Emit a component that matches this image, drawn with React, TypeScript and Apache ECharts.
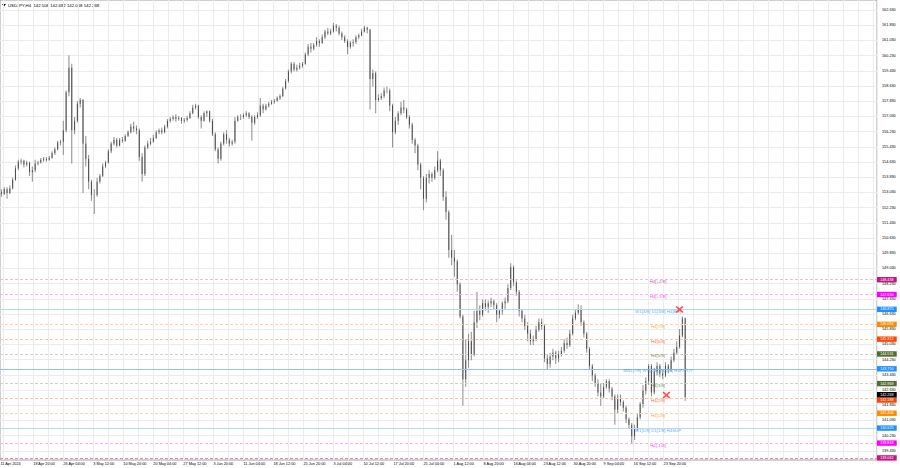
import React, { useEffect, useRef } from "react";
import * as echarts from "echarts";

// ---------- DATA ----------
const symbolName = "USDJPY,H4";
const lastBar = [142.508, 142.682, 142.068, 142.268]; // O H L C of the last H4 bar
const firstTradingDay = [2024, 3, 11]; // 11 Apr 2024

// 12-hour candles [open, close, low, high], two per trading day
const aprBars = [
  [153.05, 152.95, 152.8, 153.2], [152.95, 153.2, 152.9, 153.3], // 11 Apr
  [153.2, 153.0, 152.7, 153.3], [153.0, 153.25, 152.95, 153.4], // 12 Apr
  [153.25, 153.7, 153.2, 153.8], [153.7, 154.3, 153.65, 154.45], // 15 Apr
  [154.3, 154.65, 154.2, 154.75], [154.65, 154.7, 154.5, 154.8], // 16 Apr
  [154.7, 154.5, 154.35, 154.75], [154.5, 154.6, 154.4, 154.7], // 17 Apr
  [154.6, 154.1, 153.9, 154.65], [154.1, 154.2, 153.6, 154.4], // 18 Apr
  [154.2, 154.55, 154.1, 154.75], [154.55, 154.6, 154.45, 154.7], // 19 Apr
  [154.6, 154.75, 154.55, 154.85], [154.75, 154.8, 154.65, 154.9], // 22 Apr
  [154.8, 154.75, 154.65, 154.9], [154.75, 154.85, 154.7, 154.95], // 23 Apr
  [154.85, 155.1, 154.8, 155.2], [155.1, 155.3, 155.0, 155.4], // 24 Apr
  [155.3, 155.65, 155.25, 155.75], [155.65, 155.7, 155.5, 155.8], // 25 Apr
  [155.7, 156.3, 155.0, 156.8], [156.3, 158.3, 156.2, 158.4], // 26 Apr
  [158.3, 159.6, 158.1, 160.25], [159.6, 156.3, 154.55, 159.8], // 29 Apr
  [156.3, 156.8, 156.1, 157.0], [156.8, 157.7, 156.7, 157.85], // 30 Apr
];
const mayBars = [
  [157.7, 157.9, 157.5, 158.0], [157.9, 155.6, 153.0, 157.95], // 1 May
  [155.6, 154.8, 154.4, 156.0], [154.8, 153.6, 153.2, 155.0], // 2 May
  [153.6, 152.9, 152.6, 153.7], [152.9, 152.9, 151.9, 153.2], // 3 May
  [152.9, 153.6, 152.8, 153.8], [153.6, 153.9, 153.5, 154.0], // 6 May
  [153.9, 154.4, 153.85, 154.55], [154.4, 154.6, 154.3, 154.7], // 7 May
  [154.6, 155.2, 154.55, 155.3], [155.2, 155.6, 155.1, 155.7], // 8 May
  [155.6, 155.8, 155.5, 155.95], [155.8, 155.5, 155.4, 155.9], // 9 May
  [155.5, 155.8, 155.45, 155.9], [155.8, 155.75, 155.65, 155.95], // 10 May
  [155.75, 156.0, 155.7, 156.1], [156.0, 156.2, 155.95, 156.3], // 13 May
  [156.2, 156.5, 156.15, 156.65], [156.5, 156.4, 156.2, 156.75], // 14 May
  [156.4, 156.3, 156.1, 156.55], [156.3, 154.9, 154.7, 156.4], // 15 May
  [154.9, 154.0, 153.6, 155.1], [154.0, 155.4, 153.9, 155.5], // 16 May
  [155.4, 155.6, 155.3, 155.75], [155.6, 155.7, 155.5, 155.9], // 17 May
  [155.7, 155.9, 155.65, 156.05], [155.9, 156.2, 155.85, 156.3], // 20 May
  [156.2, 156.3, 156.1, 156.4], [156.3, 156.2, 156.1, 156.45], // 21 May
  [156.2, 156.5, 156.15, 156.6], [156.5, 156.8, 156.4, 156.9], // 22 May
  [156.8, 156.9, 156.7, 157.0], [156.9, 157.0, 156.8, 157.1], // 23 May
  [157.0, 156.9, 156.75, 157.15], [156.9, 156.95, 156.8, 157.05], // 24 May
  [156.95, 156.8, 156.65, 157.0], [156.8, 156.85, 156.7, 156.95], // 27 May
  [156.85, 156.95, 156.75, 157.05], [156.95, 157.2, 156.9, 157.3], // 28 May
  [157.2, 157.5, 157.15, 157.65], [157.5, 157.6, 157.4, 157.7], // 29 May
  [157.6, 157.0, 156.9, 157.65], [157.0, 156.8, 156.4, 157.1], // 30 May
  [156.8, 157.2, 156.75, 157.3], [157.2, 157.3, 157.0, 157.35], // 31 May
];
const junBars = [
  [157.3, 156.8, 156.7, 157.35], [156.8, 156.1, 156.0, 156.9], // 3 Jun
  [156.1, 155.3, 155.2, 156.2], [155.3, 154.8, 154.55, 155.4], // 4 Jun
  [154.8, 155.6, 154.7, 155.7], [155.6, 156.1, 155.5, 156.2], // 5 Jun
  [156.1, 155.8, 155.6, 156.3], [155.8, 155.6, 155.45, 155.9], // 6 Jun
  [155.6, 155.7, 155.5, 155.8], [155.7, 156.8, 155.6, 157.0], // 7 Jun
  [156.8, 157.0, 156.75, 157.1], [157.0, 157.0, 156.85, 157.15], // 10 Jun
  [157.0, 157.1, 156.9, 157.2], [157.1, 157.2, 157.0, 157.3], // 11 Jun
  [157.2, 157.0, 156.9, 157.25], [157.0, 156.7, 155.75, 157.1], // 12 Jun
  [156.7, 157.0, 156.6, 157.1], [157.0, 157.1, 156.9, 157.25], // 13 Jun
  [157.1, 157.6, 157.0, 158.0], [157.6, 157.4, 157.2, 157.7], // 14 Jun
  [157.4, 157.6, 157.35, 157.7], [157.6, 157.7, 157.5, 157.8], // 17 Jun
  [157.7, 157.8, 157.65, 157.9], [157.8, 157.85, 157.7, 157.95], // 18 Jun
  [157.85, 158.0, 157.8, 158.1], [158.0, 158.1, 157.9, 158.2], // 19 Jun
  [158.1, 158.5, 158.05, 158.6], [158.5, 158.9, 158.45, 159.0], // 20 Jun
  [158.9, 159.4, 158.8, 159.5], [159.4, 159.8, 159.3, 159.9], // 21 Jun
  [159.8, 159.5, 159.4, 159.9], [159.5, 159.6, 159.4, 159.75], // 24 Jun
  [159.6, 159.7, 159.5, 159.85], [159.7, 159.8, 159.6, 159.9], // 25 Jun
  [159.8, 160.3, 159.75, 160.4], [160.3, 160.7, 160.2, 160.85], // 26 Jun
  [160.7, 160.6, 160.4, 160.9], [160.6, 160.8, 160.5, 160.9], // 27 Jun
  [160.8, 161.0, 160.7, 161.2], [161.0, 160.9, 160.7, 161.1], // 28 Jun
];
const julBars = [
  [160.9, 161.2, 160.85, 161.35], [161.2, 161.5, 161.1, 161.6], // 1 Jul
  [161.5, 161.4, 161.3, 161.7], [161.4, 161.5, 161.3, 161.65], // 2 Jul
  [161.5, 161.8, 161.45, 161.95], [161.8, 161.7, 161.5, 161.9], // 3 Jul
  [161.7, 161.4, 161.3, 161.8], [161.4, 161.2, 161.05, 161.5], // 4 Jul
  [161.2, 161.0, 160.9, 161.3], [161.0, 160.7, 160.3, 161.1], // 5 Jul
  [160.7, 160.9, 160.6, 161.0], [160.9, 160.95, 160.7, 161.1], // 8 Jul
  [160.95, 161.2, 160.85, 161.3], [161.2, 161.3, 161.1, 161.4], // 9 Jul
  [161.3, 161.5, 161.25, 161.65], [161.5, 161.7, 161.45, 161.8], // 10 Jul
  [161.7, 161.6, 161.4, 161.75], [161.6, 159.0, 157.4, 161.65], // 11 Jul
  [159.0, 159.3, 158.6, 159.5], [159.3, 157.9, 157.2, 159.4], // 12 Jul
  [157.9, 158.0, 157.8, 158.2], [158.0, 158.1, 157.9, 158.25], // 15 Jul
  [158.1, 158.4, 158.0, 158.55], [158.4, 158.4, 158.25, 158.6], // 16 Jul
  [158.4, 157.6, 157.3, 158.5], [157.6, 156.2, 155.4, 157.7], // 17 Jul
  [156.2, 156.8, 156.1, 157.0], [156.8, 157.2, 156.6, 157.3], // 18 Jul
  [157.2, 157.5, 157.1, 157.8], [157.5, 157.4, 157.2, 157.9], // 19 Jul
  [157.4, 157.0, 156.9, 157.5], [157.0, 156.6, 156.4, 157.1], // 22 Jul
  [156.6, 155.8, 155.6, 156.7], [155.8, 155.5, 155.1, 155.9], // 23 Jul
  [155.5, 154.5, 154.2, 155.6], [154.5, 153.8, 153.2, 154.6], // 24 Jul
  [153.8, 152.7, 152.1, 153.9], [152.7, 153.8, 152.5, 154.0], // 25 Jul
  [153.8, 154.0, 153.5, 154.2], [154.0, 153.8, 153.6, 154.1], // 26 Jul
  [153.8, 154.2, 153.7, 154.4], [154.2, 154.7, 154.1, 155.2], // 29 Jul
  [154.7, 154.2, 153.9, 154.8], [154.2, 152.8, 152.6, 154.3], // 30 Jul
  [152.8, 152.0, 151.6, 153.1], [152.0, 150.0, 149.6, 152.1], // 31 Jul
];
const augBars = [
  [150.0, 149.6, 149.2, 150.8], [149.6, 149.4, 148.6, 150.0], // 1 Aug
  [149.4, 148.2, 147.8, 149.5], [148.2, 146.5, 146.4, 148.3], // 2 Aug
  [146.5, 143.2, 141.8, 146.6], [143.2, 144.2, 142.8, 145.3], // 5 Aug
  [144.2, 145.2, 143.8, 145.6], [145.2, 144.5, 144.2, 145.7], // 6 Aug
  [144.5, 146.2, 144.4, 146.8], [146.2, 146.8, 145.9, 147.8], // 7 Aug
  [146.8, 146.6, 146.3, 147.1], [146.6, 147.2, 146.5, 147.4], // 8 Aug
  [147.2, 147.0, 146.8, 147.4], [147.0, 147.2, 146.7, 147.35], // 9 Aug
  [147.2, 147.3, 147.0, 147.5], [147.3, 147.1, 146.9, 147.4], // 12 Aug
  [147.1, 146.6, 146.2, 147.2], [146.6, 146.8, 146.4, 146.9], // 13 Aug
  [146.8, 147.2, 146.6, 147.3], [147.2, 147.3, 146.9, 147.5], // 14 Aug
  [147.3, 148.0, 147.2, 148.2], [148.0, 149.1, 147.9, 149.3], // 15 Aug
  [149.1, 148.3, 148.1, 149.2], [148.3, 147.8, 147.6, 148.4], // 16 Aug
  [147.8, 146.8, 146.5, 147.9], [146.8, 146.4, 146.2, 146.9], // 19 Aug
  [146.4, 146.0, 145.8, 146.6], [146.0, 145.6, 145.2, 146.2], // 20 Aug
  [145.6, 145.2, 145.0, 145.8], [145.2, 145.3, 145.0, 145.5], // 21 Aug
  [145.3, 145.8, 145.2, 146.0], [145.8, 146.2, 145.7, 146.4], // 22 Aug
  [146.2, 146.0, 145.8, 146.4], [146.0, 144.3, 144.1, 146.1], // 23 Aug
  [144.3, 144.0, 143.7, 144.5], [144.0, 144.4, 143.8, 144.6], // 26 Aug
  [144.4, 144.6, 144.2, 144.8], [144.6, 144.3, 144.0, 144.7], // 27 Aug
  [144.3, 144.5, 144.1, 144.7], [144.5, 144.7, 144.4, 144.9], // 28 Aug
  [144.7, 145.1, 144.6, 145.3], [145.1, 145.0, 144.8, 145.4], // 29 Aug
  [145.0, 145.6, 144.9, 145.8], [145.6, 146.4, 145.5, 146.6], // 30 Aug
];
const sepBars = [
  [146.4, 146.7, 146.3, 146.9], [146.7, 146.9, 146.6, 147.15], // 2 Sep
  [146.9, 146.2, 146.0, 147.1], [146.2, 145.6, 145.4, 146.3], // 3 Sep
  [145.6, 144.8, 144.6, 145.7], [144.8, 143.9, 143.7, 144.9], // 4 Sep
  [143.9, 143.4, 143.1, 144.0], [143.4, 143.0, 142.8, 143.5], // 5 Sep
  [143.0, 142.5, 142.3, 143.2], [142.5, 142.3, 141.8, 143.0], // 6 Sep
  [142.3, 142.8, 142.2, 143.0], [142.8, 143.1, 142.7, 143.2], // 9 Sep
  [143.1, 142.7, 142.5, 143.2], [142.7, 142.3, 142.1, 142.8], // 10 Sep
  [142.3, 141.6, 140.8, 142.4], [141.6, 142.2, 141.4, 142.4], // 11 Sep
  [142.2, 142.0, 141.8, 142.4], [142.0, 141.7, 141.5, 142.1], // 12 Sep
  [141.7, 141.1, 140.9, 141.8], [141.1, 140.8, 140.6, 141.2], // 13 Sep
  [140.8, 140.2, 139.8, 140.9], [140.2, 140.6, 140.0, 140.8], // 16 Sep
  [140.6, 141.2, 140.5, 141.4], [141.2, 141.9, 141.1, 142.0], // 17 Sep
  [141.9, 142.6, 141.7, 142.9], [142.6, 143.1, 142.4, 143.3], // 18 Sep
  [143.1, 143.9, 142.9, 144.0], [143.9, 142.5, 142.3, 144.0], // 19 Sep
  [142.5, 143.6, 142.4, 143.8], [143.6, 143.9, 143.4, 144.1], // 20 Sep
  [143.9, 143.5, 143.3, 144.0], [143.5, 143.4, 143.2, 143.7], // 23 Sep
  [143.4, 143.9, 143.3, 144.1], [143.9, 143.7, 143.5, 144.0], // 24 Sep
  [143.7, 144.2, 143.6, 144.4], [144.2, 144.6, 144.1, 144.8], // 25 Sep
  [144.6, 144.9, 144.5, 145.2], [144.9, 145.5, 144.8, 145.85], // 26 Sep
  [145.5, 146.4, 145.4, 146.5], [146.4, 142.268, 142.068, 146.45], // 27 Sep
];

// Murrey math levels (right side)
const levelValues = [148.438, 147.656, 146.875, 146.094, 145.312, 144.531, 143.75, 142.969, 142.188, 141.406, 140.625, 139.844, 139.062];
const levelNames = [
  "H4[+2/8]", "H4[+1/8]", "W1[3/8] D1[3/8] H4[8/8]", "H4[7/8]", "H4[6/8]", "H4[5/8]",
  "MN1[7/8] W1[2/8] D1[2/8] H4PIVOT", "H4[3/8]", "H4[2/8]", "H4[1/8]", "W1[1/8] D1[1/8] H4SUP", "H4[-1/8]", "",
];
// signal crosses: [H4 bar index, price]
const signalBars = [724, 710];
const signalPrices = [146.875, 142.37];

const yTicks = [
  139.43, 140.23, 141.03, 141.83, 142.63, 143.43, 144.23, 145.03, 145.83, 146.63,
  147.43, 148.23, 149.03, 149.83, 150.63, 151.43, 152.23, 153.03, 153.83, 154.63,
  155.43, 156.23, 157.03, 157.83, 158.63, 159.43, 160.23, 161.03, 161.83, 162.63,
];
const xTickLabels = [
  "11 Apr 2024", "18 Apr 20:00", "26 Apr 04:00", "3 May 12:00", "10 May 20:00", "20 May 04:00",
  "27 May 12:00", "3 Jun 20:00", "11 Jun 04:00", "18 Jun 12:00", "25 Jun 20:00", "3 Jul 04:00",
  "10 Jul 12:00", "17 Jul 20:00", "25 Jul 04:00", "1 Aug 12:00", "8 Aug 20:00", "16 Aug 04:00",
  "23 Aug 12:00", "30 Aug 20:00", "9 Sep 04:00", "16 Sep 12:00", "23 Sep 20:00",
];

// ---------- STYLES ----------
const boxColors = ["#c71585", "#ff00ff", "#1e90ff", "#ff8c00", "#ff4500", "#556b2f", "#1e90ff", "#556b2f", "#ff4500", "#ff8c00", "#1e90ff", "#ff00ff", "#c71585"];
const lineColors = [
  "#f2b8dc", "#f7b0f7", "#b4d7fb", "#fcd6a8", "#fcc2ad", "#cfd3c3", "#8ec2f6", "#cfd3c3",
  "#fcc2ad", "#fcd6a8", "#b4d7fb", "#f7b0f7", "#de8cbd",
];
const solidLevels = [false, false, true, false, false, false, true, false, false, false, true, false, false];
const FONT = "'Liberation Sans', Arial, sans-serif";
const TOTAL_CATS = 935;
const LABEL_BAR = 701;

const MONTHS = ["Jan", "Feb", "Mar", "Apr", "May", "Jun", "Jul", "Aug", "Sep", "Oct", "Nov", "Dec"];

function buildCategories(): string[] {
  const days: Date[] = [];
  let t = Date.UTC(firstTradingDay[0], firstTradingDay[1], firstTradingDay[2]);
  while (days.length * 6 < TOTAL_CATS) {
    const d = new Date(t);
    const wd = d.getUTCDay();
    if (wd !== 0 && wd !== 6) days.push(d);
    t += 86400000;
  }
  const names: string[] = [];
  for (let i = 0; i < TOTAL_CATS; i++) {
    const d = days[Math.floor(i / 6)];
    const hh = (i % 6) * 4;
    const base = `${d.getUTCDate()} ${MONTHS[d.getUTCMonth()]}`;
    names.push(i === 0 ? `${base} ${d.getUTCFullYear()}` : `${base} ${hh < 10 ? "0" + hh : hh}:00`);
  }
  return names;
}

function buildOption() {
  const cats = buildCategories();
  const tickSet = new Set(xTickLabels);
  const bars = [...aprBars, ...mayBars, ...junBars, ...julBars, ...augBars, ...sepBars];
  const empty = ["-", "-", "-", "-"];
  const wickData: any[] = cats.map(() => empty);
  const bodyData: any[] = cats.map(() => empty);
  bars.forEach((b, k) => {
    const idx = Math.floor(k / 2) * 6 + (k % 2) * 3 + 1;
    const [o, c, l, h] = b;
    wickData[idx] = [o, c, l, h];
    bodyData[idx] = [o, c, Math.min(o, c), Math.max(o, c)];
  });

  const boxLabel = (text: string, bg: string, offsetY: number) => ({
    show: true,
    position: "end",
    distance: 0,
    formatter: text,
    backgroundColor: bg,
    color: "#ffffff",
    fontSize: 3.7,
    fontFamily: FONT,
    lineHeight: 4,
    padding: [0.8, 3.2, 0.6, 3.2],
    offset: [0, offsetY],
  });

  const markLineData: any[] = levelValues.map((v, i) => ({
    yAxis: v,
    lineStyle: { color: lineColors[i], width: 1, type: solidLevels[i] ? "solid" : [3, 2] },
    label: boxLabel(v.toFixed(3), boxColors[i], v === 142.188 ? 1.6 : 0),
  }));
  markLineData.push({
    yAxis: lastBar[3],
    lineStyle: { color: "rgba(0,0,0,0)", width: 0 },
    label: boxLabel(lastBar[3].toFixed(3), "#000000", -2.2),
  });

  const nameData = levelValues
    .map((v, i) => ({ value: [LABEL_BAR, v], name: levelNames[i], label: { color: boxColors[i] } }))
    .filter((d) => d.name !== "");

  const candleStyle = (c: string, bw: number) => ({
    color: c, color0: c, borderColor: c, borderColor0: c, borderWidth: bw,
  });

  return {
    animation: false,
    backgroundColor: "#ffffff",
    grid: {
      left: 0, right: 23, top: 0, bottom: 8,
      show: true, borderColor: "#a0a0a0", borderWidth: 1,
      outerBoundsMode: "none",
    },
    graphic: [
      { type: "polygon", shape: { points: [[2, 4], [6, 4], [4, 6.5]] }, style: { fill: "#000" } },
      {
        type: "text", left: 8, top: 3,
        style: { text: `${symbolName}  ${lastBar.map((v) => v.toFixed(3)).join(" ")}`, fontSize: 4.3, fontFamily: FONT, fill: "#000" },
      },
    ],
    xAxis: {
      type: "category",
      data: cats,
      boundaryGap: true,
      axisLine: { show: false },
      axisTick: { show: false },
      axisPointer: { show: false },
      axisLabel: {
        interval: (_i: number, v: string) => tickSet.has(v),
        align: "left",
        fontSize: 3.8,
        fontFamily: FONT,
        color: "#000",
        margin: 1.5,
      },
      splitLine: { show: true, interval: (i: number) => i % 16 === 3, lineStyle: { color: "#ececec", width: 1 } },
    },
    yAxis: {
      type: "value",
      position: "right",
      min: 138.95,
      max: 163.16,
      axisLine: { show: false },
      axisTick: { show: false, customValues: yTicks },
      axisPointer: { show: false },
      axisLabel: {
        customValues: yTicks,
        formatter: (v: number) => v.toFixed(3),
        fontSize: 3.8,
        fontFamily: FONT,
        color: "#000",
        margin: 5,
      },
      splitLine: { show: true, lineStyle: { color: "#ececec", width: 1 } },
    },
    series: [
      {
        type: "line",
        data: [],
        z: 1,
        silent: true,
        markLine: { silent: true, symbol: ["none", "none"], animation: false, data: markLineData },
      },
      {
        type: "candlestick",
        data: wickData,
        barWidth: 2.6,
        z: 3,
        silent: true,
        itemStyle: candleStyle("#959595", 1.1),
      },
      {
        type: "candlestick",
        data: bodyData,
        barWidth: 2.5,
        z: 4,
        silent: true,
        itemStyle: candleStyle("#2c2c2c", 0.7),
      },
      {
        type: "scatter",
        data: nameData,
        symbolSize: 0,
        z: 5,
        silent: true,
        label: { show: true, position: "bottom", distance: 0, formatter: "{b}", fontSize: 4.4, fontFamily: FONT },
      },
      {
        type: "scatter",
        data: signalBars.map((b, i) => [b, signalPrices[i]]),
        symbol: "path://M0,1.6L1.6,0L5,3.4L8.4,0L10,1.6L6.6,5L10,8.4L8.4,10L5,6.6L1.6,10L0,8.4L3.4,5Z",
        symbolSize: [8, 7],
        z: 6,
        silent: true,
        itemStyle: { color: "#ff2a2a" },
      },
    ],
  };
}

export default function App() {
  const ref = useRef<HTMLDivElement>(null);
  useEffect(() => {
    const el = ref.current;
    if (!el) return;
    const chart = echarts.init(el, null, { renderer: "svg" });
    chart.setOption(buildOption() as any);
    return () => chart.dispose();
  }, []);
  return (
    <div
      ref={ref}
      style={{ position: "absolute", left: 0, top: 0, width: 900, height: 468, background: "#ffffff" }}
    />
  );
}
